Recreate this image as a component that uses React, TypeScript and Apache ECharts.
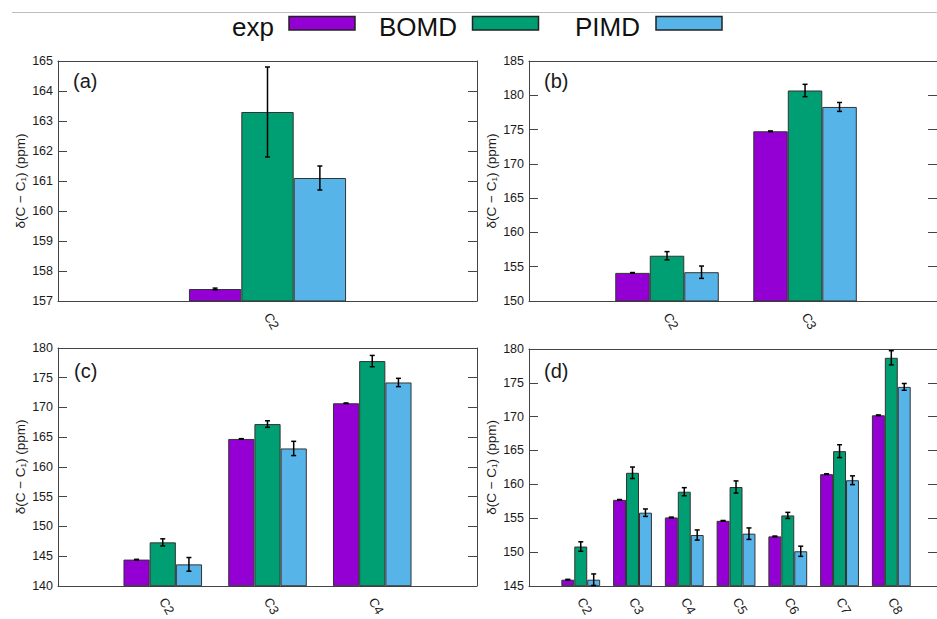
import React, { useEffect, useRef } from "react";
import * as echarts from "echarts";

const methods = ["exp", "BOMD", "PIMD"];
const colors = ["#9400d3", "#009e73", "#56b4e9"];
const yAxisName = "δ(C − C₁) (ppm)";

// Panel (a)
const catsA = ["C2"];
const expA = [157.4];
const expErrA = [0.03];
const bomdA = [163.3];
const bomdErrA = [1.5];
const pimdA = [161.1];
const pimdErrA = [0.4];
const yTicksA = [157, 165, 1];

// Panel (b)
const catsB = ["C2", "C3"];
const expB = [154.1, 174.75];
const expErrB = [0.05, 0.05];
const bomdB = [156.6, 180.7];
const bomdErrB = [0.6, 0.9];
const pimdB = [154.2, 178.3];
const pimdErrB = [0.9, 0.65];
const yTicksB = [150, 185, 5];

// Panel (c)
const catsC = ["C2", "C3", "C4"];
const expC = [144.4, 164.7, 170.7];
const expErrC = [0.05, 0.05, 0.05];
const bomdC = [147.3, 167.2, 177.8];
const bomdErrC = [0.6, 0.55, 0.95];
const pimdC = [143.6, 163.1, 174.2];
const pimdErrC = [1.15, 1.2, 0.7];
const yTicksC = [140, 180, 5];

// Panel (d)
const catsD = ["C2", "C3", "C4", "C5", "C6", "C7", "C8"];
const expD = [145.9, 157.7, 155.1, 154.6, 152.3, 161.5, 170.2];
const expErrD = [0.05, 0.05, 0.05, 0.05, 0.05, 0.05, 0.05];
const bomdD = [150.8, 161.7, 158.9, 159.6, 155.4, 164.9, 178.7];
const bomdErrD = [0.7, 0.85, 0.6, 0.9, 0.45, 0.95, 1.05];
const pimdD = [145.9, 155.8, 152.5, 152.7, 150.1, 160.6, 174.4];
const pimdErrD = [0.85, 0.55, 0.75, 0.85, 0.75, 0.65, 0.5];
const yTicksD = [145, 180, 5];

const panelLabels = ["(a)", "(b)", "(c)", "(d)"];

// The chart canvas is a little wider than the visible window so that the
// right-hand panels run past the right edge, as in the reference crop.
const CW = 952;
const CH = 619;

const panels = [
  { label: panelLabels[0], cats: catsA, vals: [expA, bomdA, pimdA], errs: [expErrA, bomdErrA, pimdErrA], ticks: yTicksA,
    grid: { left: 58, top: 61, right: CW - 477, bottom: 318 }, lx: 73, ly: 71, rt: 9 },
  { label: panelLabels[1], cats: catsB, vals: [expB, bomdB, pimdB], errs: [expErrB, bomdErrB, pimdErrB], ticks: yTicksB,
    grid: { left: 529, top: 61, right: CW - 949, bottom: 318 }, lx: 544, ly: 71, rt: 15 },
  { label: panelLabels[2], cats: catsC, vals: [expC, bomdC, pimdC], errs: [expErrC, bomdErrC, pimdErrC], ticks: yTicksC,
    grid: { left: 58, top: 348, right: CW - 477, bottom: 31 }, lx: 74, ly: 361, rt: 9 },
  { label: panelLabels[3], cats: catsD, vals: [expD, bomdD, pimdD], errs: [expErrD, bomdErrD, pimdErrD], ticks: yTicksD,
    grid: { left: 529, top: 349, right: CW - 949, bottom: 31 }, lx: 544, ly: 361, rt: 15 },
];

const FONT = "'Liberation Sans', Arial, Helvetica, sans-serif";
const TXT = "#1a1a1a";
const AX = "#444";

function buildOption() {
  const grid: any[] = [];
  const xAxis: any[] = [];
  const yAxis: any[] = [];
  const series: any[] = [];
  const graphic: any[] = [];

  panels.forEach((p, pi) => {
    grid.push({ ...p.grid, show: false });
    const axisCats = ["", ...p.cats, " "];
    xAxis.push({
      type: "category",
      gridIndex: pi,
      data: axisCats,
      boundaryGap: false,
      position: "bottom",
      axisLine: { show: true, lineStyle: { color: AX, width: 1 } },
      axisTick: { show: false },
      axisLabel: { interval: 0, rotate: -60, margin: 13, fontSize: 13, color: TXT, fontFamily: FONT },
      splitLine: { show: false },
    });
    const [mn, mx, iv] = p.ticks;
    yAxis.push({
      type: "value",
      gridIndex: pi,
      min: mn,
      max: mx,
      interval: iv,
      position: "left",
      name: yAxisName,
      nameLocation: "middle",
      nameGap: 31,
      nameTextStyle: { fontSize: 13.5, color: TXT, fontFamily: FONT },
      axisLine: { show: true, lineStyle: { color: AX, width: 1 } },
      axisTick: { show: true, inside: true, length: 9, lineStyle: { color: AX } },
      axisLabel: { fontSize: 12.5, color: TXT, fontFamily: FONT, margin: 5 },
      splitLine: { show: false },
    });
    yAxis.push({
      type: "value",
      gridIndex: pi,
      min: mn,
      max: mx,
      interval: iv,
      position: "right",
      axisLine: { show: true, lineStyle: { color: AX, width: 1 } },
      axisTick: { show: true, inside: true, length: p.rt, lineStyle: { color: AX } },
      axisLabel: { show: false },
      splitLine: { show: false },
    });

    methods.forEach((m, mi) => {
      series.push({
        type: "bar",
        name: m,
        xAxisIndex: pi,
        yAxisIndex: pi * 2,
        data: [null, ...p.vals[mi], null],
        barWidth: "25%",
        barGap: "0%",
        clip: true,
        itemStyle: { color: colors[mi], borderColor: "#333", borderWidth: 1 },
        z: 2,
      });
    });

    const errData: any[] = [];
    methods.forEach((m, mi) => {
      p.vals[mi].forEach((v, ci) => {
        errData.push([ci + 1, v, p.errs[mi][ci], mi]);
      });
    });
    series.push({
      type: "custom",
      xAxisIndex: pi,
      yAxisIndex: pi * 2,
      data: errData,
      z: 5,
      clip: false,
      renderItem: (params: any, api: any) => {
        const ci = api.value(0);
        const v = api.value(1);
        const e = api.value(2);
        const mi = api.value(3);
        const band = api.size([1, 0])[0];
        const bw = band * 0.25;
        const c = api.coord([ci, v]);
        const x = c[0] + (mi - 1) * bw;
        const top = api.coord([ci, v + e])[1];
        const bot = api.coord([ci, v - e])[1];
        const h = 2.5;
        const st = { stroke: "#000", lineWidth: 1.5 };
        return {
          type: "group",
          children: [
            { type: "line", shape: { x1: x, y1: top, x2: x, y2: bot }, style: st },
            { type: "line", shape: { x1: x - h, y1: top, x2: x + h, y2: top }, style: st },
            { type: "line", shape: { x1: x - h, y1: bot, x2: x + h, y2: bot }, style: st },
          ],
        };
      },
    });

    graphic.push({
      type: "text",
      left: p.lx,
      top: p.ly,
      style: { text: p.label, fontSize: 20, fill: TXT, fontFamily: FONT },
      z: 10,
    });
  });

  // top frame lines of each panel, as x axes placed on top
  panels.forEach((p, pi) => {
    xAxis.push({
      type: "category",
      gridIndex: pi,
      data: ["", ...p.cats, " "],
      boundaryGap: false,
      position: "top",
      axisLine: { show: true, lineStyle: { color: AX, width: 1 } },
      axisTick: { show: false },
      axisLabel: { show: false },
      splitLine: { show: false },
    });
  });

  // top separator line
  graphic.push({
    type: "line",
    shape: { x1: 12, y1: 12.5, x2: CW, y2: 12.5 },
    style: { stroke: "#bdbdbd", lineWidth: 1 },
  });

  // legend (text then swatch)
  const legendTextRight = [274, 457, 640];
  const legendSwatchLeft = [289, 472.5, 656];
  methods.forEach((m, mi) => {
    graphic.push({
      type: "text",
      x: legendTextRight[mi],
      y: 27,
      style: { text: m, fontSize: 26, fill: "#111", fontFamily: FONT, align: "right", verticalAlign: "middle" },
    });
    graphic.push({
      type: "rect",
      shape: { x: legendSwatchLeft[mi], y: 16.5, width: 66, height: 13.5 },
      style: { fill: colors[mi], stroke: "#222", lineWidth: 1.5 },
    });
  });

  return {
    animation: false,
    backgroundColor: "#fff",
    textStyle: { fontFamily: FONT },
    grid,
    xAxis,
    yAxis,
    series,
    graphic,
  };
}

export default function App() {
  const ref = useRef<HTMLDivElement>(null);
  useEffect(() => {
    document.body.style.margin = "0";
    if (!ref.current) return;
    const chart = echarts.init(ref.current, undefined, { renderer: "svg" });
    chart.setOption(buildOption() as any);
    return () => chart.dispose();
  }, []);
  return (
    <div style={{ width: 937, height: CH, overflow: "hidden", position: "relative" }}>
      <div ref={ref} style={{ width: CW, height: CH }} />
    </div>
  );
}
